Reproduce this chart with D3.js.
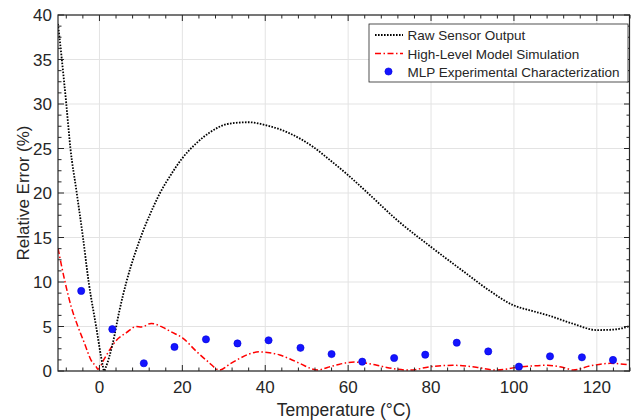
<!DOCTYPE html>
<html>
<head>
<meta charset="utf-8">
<script src="https://cdn.jsdelivr.net/npm/d3@7"></script>
<style>
  body { margin: 0; background: #fff; }
  svg text { font-family: "Liberation Sans", Arial, Helvetica, sans-serif; fill: #262626; }
</style>
</head>
<body>
<div id="container"></div>
<script>
// raw sensor output (black dotted)
var rawT   = [-10, -9.1, -8, -7, -5.6, -4, -2.6, -0.8, 0.8, 1.1, 1.6, 3.2, 4.85, 6.5, 8.5, 10.5, 12.1, 14.5, 17.3, 19.8, 23.4, 26.6, 31.4, 36, 40.3, 45.9, 51.5, 55.6, 60, 65.2, 71.7, 80.1, 87.8, 94.2, 99.8, 104, 107.9, 114.3, 120, 124, 128]
var rawErr = [39.0, 35.1, 30.0, 25.0, 20.4, 15.1, 10.0, 5.0, 0.6, 0.0, 0.5, 3.1, 6.85, 10.0, 13.1, 15.7, 17.5, 19.9, 22.1, 23.8, 25.6, 26.8, 27.8, 27.95, 27.6, 26.7, 25.2, 23.7, 22.0, 19.8, 17.0, 13.9, 11.2, 9.0, 7.4, 6.8, 6.3, 5.3, 4.6, 4.65, 5.05]

// high-level model simulation (red dash-dot)
var modelT   = [-10, -8.4, -6.8, -5.2, -3.6, -2, -0.8, -0.4, 1.2, 2.5, 4, 6.5, 8.9, 10.1, 12.5, 15.3, 17.3, 20.1, 23.4, 26.2, 29, 31.5, 33.8, 36, 38.6, 41, 43.5, 46, 48.3, 52.7, 55, 57.2, 60, 61.5, 63.6, 66.5, 69.3, 74.9, 79.7, 85.3, 90.9, 95.8, 100.6, 104, 107.9, 111.9, 114.3, 118.3, 123.2, 128]
var modelErr = [13.8, 10.2, 7.2, 5.0, 3.1, 1.2, 0.5, 0.2, 1.4, 2.4, 3.4, 4.3, 5.0, 4.95, 5.35, 4.9, 4.4, 3.7, 2.2, 1.05, 0.1, 0.8, 1.4, 1.9, 2.15, 2.05, 1.8, 1.35, 0.86, 0.1, 0.4, 0.67, 0.95, 1.0, 0.93, 0.7, 0.4, 0.1, 0.48, 0.64, 0.42, 0.1, 0.4, 0.55, 0.64, 0.4, 0.1, 0.56, 0.86, 0.67]

// MLP experimental characterization (blue dots)
var mlpT   = [-4.4, 3.1, 10.7, 18.1, 25.7, 33.3, 40.8, 48.5, 56.0, 63.4, 71.1, 78.6, 86.2, 93.8, 101.2, 108.7, 116.4, 123.9]
var mlpErr = [9.0, 4.7, 0.87, 2.7, 3.56, 3.1, 3.45, 2.6, 1.9, 1.05, 1.46, 1.83, 3.18, 2.2, 0.49, 1.65, 1.54, 1.24]

var xTicks = [0, 20, 40, 60, 80, 100, 120]
var yTicks = [0, 5, 10, 15, 20, 25, 30, 35, 40]
var legendLabels = ["Raw Sensor Output", "High-Level Model Simulation", "MLP Experimental Characterization"]

var width = 631
var height = 420
var margin = {left: 58, right: 1, top: 15, bottom: 49}
var axisColor = "#262626"
var gridColor = "#e3e3e3"

var svg = d3.select("#container")
            .append("svg")
            .attr("width", width)
            .attr("height", height)

var x = d3.scaleLinear().domain([-10, 128]).range([margin.left, width - margin.right])
var y = d3.scaleLinear().domain([0, 40]).range([height - margin.bottom, margin.top])

var x0 = x.range()[0], x1 = x.range()[1]
var y0 = y.range()[0], y1 = y.range()[1]

// grid
svg.append("g").selectAll("line")
   .data(xTicks)
   .enter().append("line")
   .attr("x1", (d) => x(d)).attr("x2", (d) => x(d))
   .attr("y1", y0).attr("y2", y1)
   .attr("stroke", gridColor).attr("stroke-width", 1)

svg.append("g").selectAll("line")
   .data(yTicks)
   .enter().append("line")
   .attr("x1", x0).attr("x2", x1)
   .attr("y1", (d) => y(d)).attr("y2", (d) => y(d))
   .attr("stroke", gridColor).attr("stroke-width", 1)

// clip for the curves
svg.append("clipPath").attr("id", "plotclip")
   .append("rect").attr("x", x0).attr("y", y1).attr("width", x1 - x0).attr("height", y0 - y1)

var plot = svg.append("g").attr("clip-path", "url(#plotclip)")

var rawLine = d3.line().x((d, i) => x(rawT[i])).y((d) => y(d)).curve(d3.curveMonotoneX)
var modelLine = d3.line().x((d, i) => x(modelT[i])).y((d) => y(d)).curve(d3.curveMonotoneX)

plot.append("path")
    .attr("d", modelLine(modelErr))
    .attr("fill", "none")
    .attr("stroke", "#ff0000")
    .attr("stroke-width", 1.5)
    .attr("stroke-dasharray", "6,2.5,1.5,2.5")

plot.append("path")
    .attr("d", rawLine(rawErr))
    .attr("fill", "none")
    .attr("stroke", "#000")
    .attr("stroke-width", 1.8)
    .attr("stroke-dasharray", "1.6,1.4")

plot.selectAll("circle")
    .data(mlpErr)
    .enter().append("circle")
    .attr("cx", (d, i) => x(mlpT[i]))
    .attr("cy", (d) => y(d))
    .attr("r", 3.6)
    .attr("fill", "#1414ff")
    .attr("stroke", "#0000dd")
    .attr("stroke-width", 0.6)

// axes (inward ticks, mirrored on top and right)
var xMinor = d3.range(-8, 129, 4).filter((d) => xTicks.indexOf(d) < 0)
var yMinor = d3.range(0, 40.01, 1.25).filter((d) => yTicks.indexOf(d) < 0)

var axes = svg.append("g").attr("stroke", axisColor)

function xTickMarks(data, len) {
  axes.append("g").selectAll("line").data(data).enter().append("line")
      .attr("x1", (d) => x(d)).attr("x2", (d) => x(d))
      .attr("y1", y0).attr("y2", y0 - len).attr("stroke-width", 1)
  axes.append("g").selectAll("line").data(data).enter().append("line")
      .attr("x1", (d) => x(d)).attr("x2", (d) => x(d))
      .attr("y1", y1).attr("y2", y1 + len).attr("stroke-width", 1)
}
function yTickMarks(data, len) {
  axes.append("g").selectAll("line").data(data).enter().append("line")
      .attr("x1", x0).attr("x2", x0 + len)
      .attr("y1", (d) => y(d)).attr("y2", (d) => y(d)).attr("stroke-width", 1)
  axes.append("g").selectAll("line").data(data).enter().append("line")
      .attr("x1", x1).attr("x2", x1 - len)
      .attr("y1", (d) => y(d)).attr("y2", (d) => y(d)).attr("stroke-width", 1)
}
xTickMarks(xTicks, 6)
xTickMarks(xMinor, 3.5)
yTickMarks(yTicks, 6)
yTickMarks(yMinor, 3.5)

axes.append("rect")
    .attr("x", x0).attr("y", y1)
    .attr("width", x1 - x0 - 0.5).attr("height", y0 - y1)
    .attr("fill", "none").attr("stroke-width", 1.2)

// tick labels
svg.append("g").selectAll("text")
   .data(xTicks).enter().append("text")
   .attr("x", (d) => x(d)).attr("y", y0 + 22)
   .attr("text-anchor", "middle")
   .attr("font-size", "17px")
   .text((d) => d)

svg.append("g").selectAll("text")
   .data(yTicks).enter().append("text")
   .attr("x", x0 - 6).attr("y", (d) => y(d) + 6)
   .attr("text-anchor", "end")
   .attr("font-size", "17px")
   .text((d) => d)

svg.append("text")
   .attr("x", (x0 + x1) / 2).attr("y", 416)
   .attr("text-anchor", "middle")
   .attr("font-size", "17.5px")
   .text("Temperature (°C)")

svg.append("text")
   .attr("transform", "translate(29," + ((y0 + y1) / 2) + ") rotate(-90)")
   .attr("text-anchor", "middle")
   .attr("font-size", "17px")
   .text("Relative Error (%)")

// legend
var legend = svg.append("g").attr("transform", "translate(369,24)")
legend.append("rect")
      .attr("width", 259).attr("height", 58)
      .attr("fill", "#fff").attr("stroke", axisColor).attr("stroke-width", 0.8)

var rowY = [11, 29.5, 47.5]
legend.append("line")
      .attr("x1", 6).attr("x2", 34).attr("y1", rowY[0]).attr("y2", rowY[0])
      .attr("stroke", "#000").attr("stroke-width", 1.8).attr("stroke-dasharray", "1.6,1.4")
legend.append("line")
      .attr("x1", 6).attr("x2", 34).attr("y1", rowY[1]).attr("y2", rowY[1])
      .attr("stroke", "#ff0000").attr("stroke-width", 1.5).attr("stroke-dasharray", "6,2.5,1.5,2.5")
legend.append("circle")
      .attr("cx", 19.5).attr("cy", rowY[2]).attr("r", 3.6)
      .attr("fill", "#1414ff").attr("stroke", "#0000dd").attr("stroke-width", 0.6)

legend.selectAll("legendText")
      .data(legendLabels).enter().append("text")
      .attr("x", 38.5).attr("y", (d, i) => rowY[i] + 5)
      .attr("font-size", "13.5px")
      .text((d) => d)
</script>
</body>
</html>
